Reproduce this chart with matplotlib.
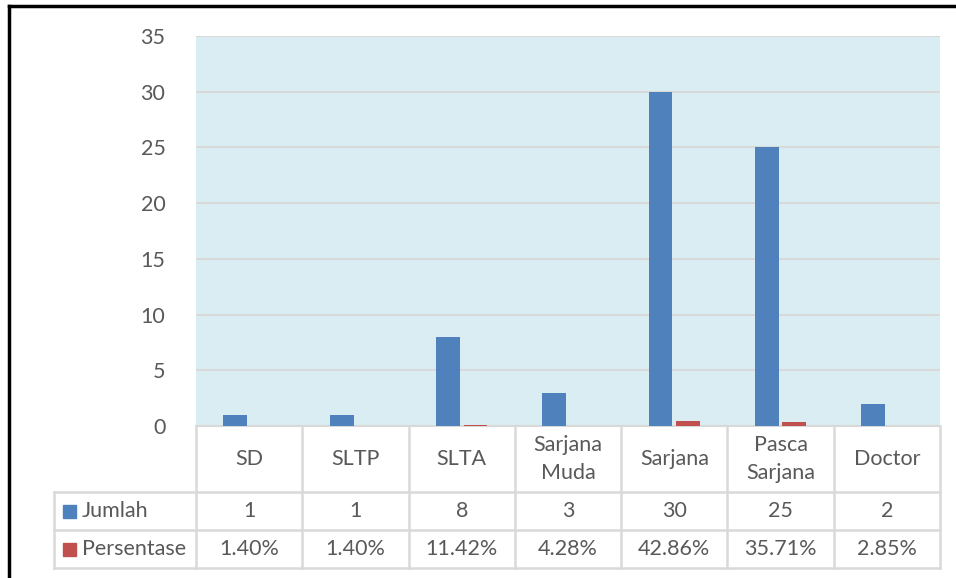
import matplotlib.pyplot as plt
from matplotlib.lines import Line2D
from matplotlib.patches import Rectangle
import matplotlib.transforms as mtransforms

categories = ["SD", "SLTP", "SLTA", "Sarjana\nMuda", "Sarjana", "Pasca\nSarjana", "Doctor"]
jumlah = [1, 1, 8, 3, 30, 25, 2]
persentase = [0.0140, 0.0140, 0.1142, 0.0428, 0.4286, 0.3571, 0.0285]
persentase_labels = ["1.40%", "1.40%", "11.42%", "4.28%", "42.86%", "35.71%", "2.85%"]
series_names = ["Jumlah", "Persentase"]

W, H = 956, 578
blue = "#4f81bd"
red = "#c0504d"
txt = "#595959"
grid = "#d9d9d9"
fs = 15.5

plt.rcParams['font.family'] = ['Lato', 'DejaVu Sans']

def fy(py):
    return 1 - py / H

fig = plt.figure(figsize=(W / 100, H / 100), dpi=100)
ax = fig.add_axes([196 / W, fy(426), (940 - 196) / W, (426 - 36) / H])
ax.set_facecolor("#daedf3")

x = list(range(len(categories)))
bw = 0.225
ax.bar([i - 0.13 for i in x], jumlah, width=bw, color=blue, zorder=3)
ax.bar([i + 0.13 for i in x], persentase, width=bw, color=red, zorder=3)

ax.set_xlim(-0.5, len(categories) - 0.5)
ax.set_ylim(0, 35)
ax.set_yticks(range(0, 36, 5))
ax.yaxis.grid(True, color=grid, linewidth=1.5, zorder=0)
ax.set_xticks([])
ax.tick_params(axis='y', length=0, pad=22, labelsize=fs, labelcolor=txt)
for s in ["left", "right", "top"]:
    ax.spines[s].set_visible(False)
ax.spines["bottom"].set_color(grid)
ax.spines["bottom"].set_linewidth(1.5)

# data table below the axes
trans = mtransforms.blended_transform_factory(ax.transData, fig.transFigure)
lw = 1.8
x_left_tab = 54
x0, x1 = 196, 940

def hline(ya, xa, xb):
    fig.add_artist(Line2D([xa / W, xb / W], [fy(ya), fy(ya)], color=grid, lw=lw))

def vline(xa, ya, yb):
    fig.add_artist(Line2D([xa / W, xa / W], [fy(ya), fy(yb)], color=grid, lw=lw))

hline(492, x_left_tab, x1)
hline(530, x_left_tab, x1)
hline(568, x_left_tab, x1)
vline(x_left_tab, 492, 568)
ncol = len(categories)
for k in range(ncol + 1):
    vline(x0 + k * (x1 - x0) / ncol, 426, 568)

for i, c in enumerate(categories):
    ax.text(i, fy(459), c, transform=trans, ha="center", va="center",
            fontsize=fs, color=txt, linespacing=1.45)
    ax.text(i, fy(511), str(jumlah[i]), transform=trans, ha="center", va="center",
            fontsize=fs, color=txt)
    ax.text(i, fy(549), persentase_labels[i], transform=trans, ha="center", va="center",
            fontsize=fs, color=txt)

for name, col, yc in zip(series_names, [blue, red], [511, 549]):
    fig.add_artist(Rectangle((63 / W, fy(yc + 7)), 13 / W, 13 / H, color=col,
                             transform=fig.transFigure))
    fig.text(82 / W, fy(yc), name, ha="left", va="center", fontsize=fs, color=txt)

# outer frame (left and top edges)
fig.add_artist(Line2D([9 / W, 9 / W], [fy(6), 0], color="black", lw=2.5))
fig.add_artist(Line2D([9 / W, 1], [fy(6), fy(6)], color="black", lw=2.5))

fig.savefig("out.png", dpi=100)
